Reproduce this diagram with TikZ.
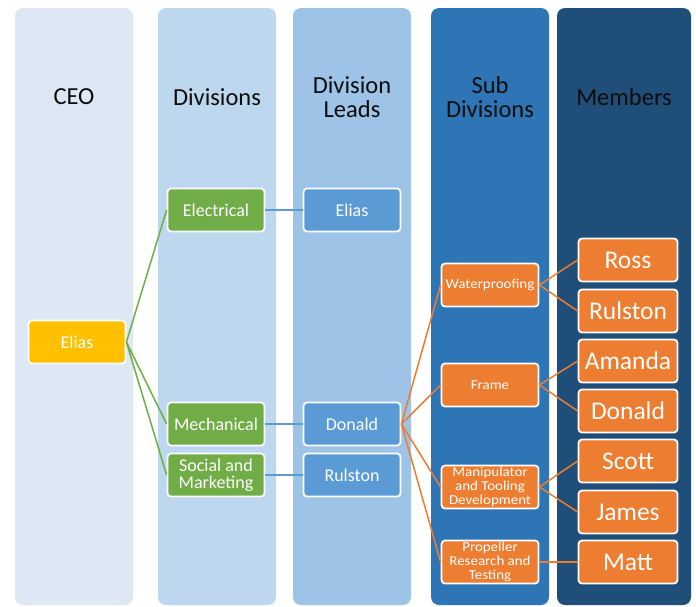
\documentclass[tikz,border=0pt]{standalone}
\usepackage{fontspec}
\setmainfont{Carlito}
\newfontfamily\subfont[FakeStretch=1.1]{Carlito}
\definecolor{laneA}{HTML}{DEE8F4}
\definecolor{laneB}{HTML}{BDD7EE}
\definecolor{laneC}{HTML}{9DC3E6}
\definecolor{laneD}{HTML}{2E75B6}
\definecolor{laneE}{HTML}{1F4E79}
\definecolor{gold}{HTML}{FFC000}
\definecolor{leaf}{HTML}{70AD47}
\definecolor{sky}{HTML}{5B9BD5}
\definecolor{tang}{HTML}{ED7D31}
\begin{document}
\begin{tikzpicture}[x=1pt,y=-1pt,
  lane/.style={rounded corners=8pt},
  head/.style={text=black!95,align=center,inner sep=0pt,font=\fontsize{24.5}{24}\selectfont},
  box/.style={draw=white,line width=1.8pt,rounded corners=3.5pt,text=white,align=center,
    inner sep=0pt,minimum width=97pt,minimum height=43pt},
  ceobox/.style={box,fill=gold,font=\fontsize{18}{17}\selectfont},
  divbox/.style={box,fill=leaf,font=\fontsize{18}{17}\selectfont},
  leadbox/.style={box,fill=sky,font=\fontsize{18}{17}\selectfont},
  subbox/.style={box,fill=tang,font=\subfont\fontsize{13.6}{14.2}\selectfont},
  membox/.style={box,fill=tang,minimum width=99pt,font=\fontsize{25.5}{26}\selectfont},
  gline/.style={leaf,line width=1.5pt},
  bline/.style={sky,line width=1.5pt},
  oline/.style={tang,line width=1.5pt}]
\useasboundingbox (0,0) rectangle (696,606);

% column backgrounds
\fill[lane,laneA] (15,8) rectangle (133,605);
\fill[lane,laneB] (158,8) rectangle (276,605);
\fill[lane,laneC] (293,8) rectangle (411,605);
\fill[lane,laneD] (431,8) rectangle (549,605);
\fill[lane,laneE] (557,8) rectangle (691,605);

% column headings
\node[head] (hceo) at (74,97) {CEO};
\node[head] (hdiv) at (217,97) {Divisions};
\node[head] (hlead) at (352,97) {Division\\Leads};
\node[head] (hsub) at (490,97) {Sub\\Divisions};
\node[head] (hmem) at (624,97) {Members};

% CEO
\node[ceobox] (ceo) at (77,342) {Elias};

% divisions
\node[divbox] (elec) at (216,210) {Electrical};
\node[divbox] (mech) at (216,424) {Mechanical};
\node[divbox] (soc) at (216,475) {Social and\\Marketing};

% division leads
\node[leadbox] (lelias) at (352,210) {Elias};
\node[leadbox] (ldonald) at (352,424) {Donald};
\node[leadbox] (lrulston) at (352,475) {Rulston};

% sub divisions
\node[subbox] (water) at (490,285) {Waterproofing};
\node[subbox] (frame) at (490,385) {Frame};
\node[subbox] (manip) at (490,487) {Manipulator\\and Tooling\\Development};
\node[subbox] (prop) at (490,562) {Propeller\\Research and\\Testing};

% members
\node[membox] (ross) at (628,260) {Ross};
\node[membox] (mrulston) at (628,311) {Rulston};
\node[membox] (amanda) at (628,361) {Amanda};
\node[membox] (mdonald) at (628,411) {Donald};
\node[membox] (scott) at (628,461) {Scott};
\node[membox] (james) at (628,512) {James};
\node[membox] (matt) at (628,562) {Matt};

% connectors
\draw[gline] (ceo.east) -- (elec.west);
\draw[gline] (ceo.east) -- (mech.west);
\draw[gline] (ceo.east) -- (soc.west);

\draw[bline] (elec.east) -- (lelias.west);
\draw[bline] (mech.east) -- (ldonald.west);
\draw[bline] (soc.east) -- (lrulston.west);

\draw[oline] (ldonald.east) -- (water.west);
\draw[oline] (ldonald.east) -- (frame.west);
\draw[oline] (ldonald.east) -- (manip.west);
\draw[oline] (ldonald.east) -- (prop.west);

\draw[oline] (water.east) -- (ross.west);
\draw[oline] (water.east) -- (mrulston.west);
\draw[oline] (frame.east) -- (amanda.west);
\draw[oline] (frame.east) -- (mdonald.west);
\draw[oline] (manip.east) -- (scott.west);
\draw[oline] (manip.east) -- (james.west);
\draw[oline] (prop.east) -- (matt.west);
\end{tikzpicture}
\end{document}
